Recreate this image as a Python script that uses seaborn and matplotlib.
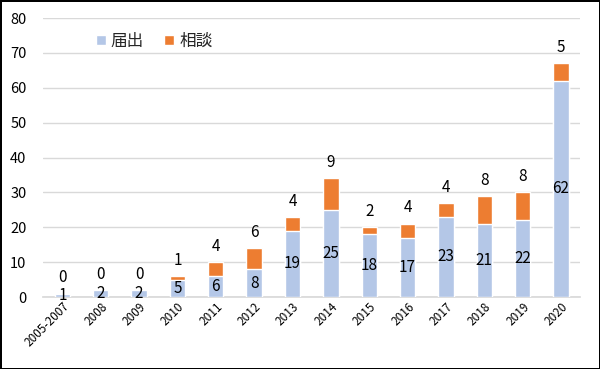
import matplotlib
matplotlib.use("Agg")
import matplotlib.pyplot as plt
import seaborn as sns
import pandas as pd
from matplotlib.patches import Patch

years = ["2005-2007", "2008", "2009", "2010", "2011", "2012", "2013",
         "2014", "2015", "2016", "2017", "2018", "2019", "2020"]
todokede = [1, 2, 2, 5, 6, 8, 19, 25, 18, 17, 23, 21, 22, 62]   # 届出
soudan = [0, 0, 0, 1, 4, 6, 4, 9, 2, 4, 4, 8, 8, 5]             # 相談

BLUE = "#b4c7e7"
ORANGE = "#ed7d31"

sns.set_theme(style="white")
plt.rcParams["font.family"] = ["Noto Sans CJK JP", "DejaVu Sans"]

df = pd.DataFrame({"year": years, "todokede": todokede, "soudan": soudan})
df["total"] = df["todokede"] + df["soudan"]

fig = plt.figure(figsize=(6, 3.69), dpi=100)
fig.patch.set_edgecolor("black")
fig.patch.set_linewidth(2)
ax = fig.add_axes([0.072, 0.195, 0.895, 0.756])

# stacked: draw totals in orange, then blue on top of it
sns.barplot(data=df, x="year", y="total", color=ORANGE, width=0.4,
            saturation=1, ax=ax, zorder=2)
sns.barplot(data=df, x="year", y="todokede", color=BLUE, width=0.4,
            saturation=1, ax=ax, zorder=3)

for i, row in df.iterrows():
    ax.text(i, row["todokede"] / 2, str(row["todokede"]), ha="center",
            va="center", fontsize=11, color="black", zorder=4)
    ax.text(i, row["total"] + 2.1, str(row["soudan"]), ha="center",
            va="bottom", fontsize=11, color="black", zorder=4)

ax.set_ylim(0, 80)
ax.set_yticks(range(0, 81, 10))
ax.set_xlim(-0.5, len(years) - 0.5)
ax.yaxis.grid(True, color="#d9d9d9", linewidth=1)
ax.set_axisbelow(True)
for s in ["top", "right", "left"]:
    ax.spines[s].set_visible(False)
ax.spines["bottom"].set_color("#d9d9d9")
ax.set_xlabel("")
ax.set_ylabel("")
ax.tick_params(axis="y", labelsize=10.5, labelcolor="black", length=0, pad=12)
ax.tick_params(axis="x", labelsize=8.5, labelcolor="black", length=0, pad=2)
plt.setp(ax.get_xticklabels(), rotation=45, ha="right", rotation_mode="anchor")

handles = [Patch(facecolor=BLUE, label="届出"), Patch(facecolor=ORANGE, label="相談")]
ax.legend(handles=handles, loc="upper left", bbox_to_anchor=(0.07, 1.0), ncol=2,
          frameon=False, fontsize=12, handlelength=0.6, handleheight=0.6,
          handletextpad=0.3, columnspacing=1.2)

fig.savefig("out.png", dpi=100)
